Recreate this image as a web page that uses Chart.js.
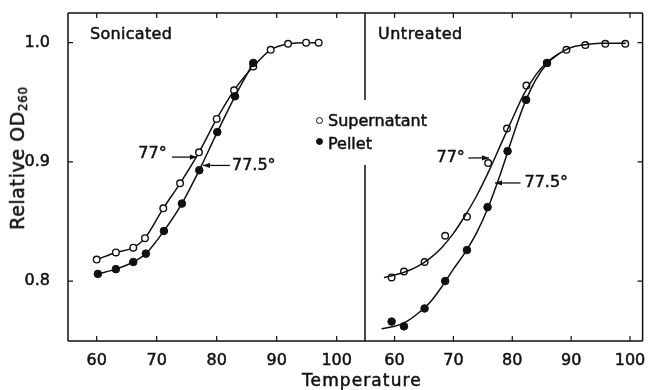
<!DOCTYPE html>
<html>
<head>
<meta charset="utf-8">
<script src="https://cdn.jsdelivr.net/npm/chart.js@4.4.0/dist/chart.umd.min.js"></script>
<style>
  body { margin: 0; background: #fff; }
  #wrap { position: relative; width: 648px; height: 390px; font-family: "DejaVu Sans", sans-serif; color: #111; }
  canvas { position: absolute; left: 0; top: 0; }
  .lbl { position: absolute; white-space: nowrap; font-size: 16px; line-height: 16px; -webkit-text-stroke: 0.5px #111; }
  .dot { position: absolute; width: 5px; height: 5px; border-radius: 50%; border: 1.3px solid #111; }
</style>
</head>
<body>
<div id="wrap">
  <canvas id="left" width="648" height="390"></canvas>
  <canvas id="right" width="648" height="390"></canvas>
  <div class="lbl" style="left:90px; top:26px; letter-spacing:0.3px;">Sonicated</div>
  <div class="lbl" style="left:378px; top:26px; letter-spacing:0.5px;">Untreated</div>
  <div class="dot" style="left:316px; top:117px; background:#fff;"></div>
  <div class="lbl" style="left:328px; top:113px;">Supernatant</div>
  <div class="dot" style="left:316px; top:138px; background:#111;"></div>
  <div class="lbl" style="left:328px; top:136px;">Pellet</div>
  <div class="lbl" style="left:302px; top:372px; font-size:17px; line-height:17px; letter-spacing:1.1px;">Temperature</div>
  <div class="lbl" style="left:19px; top:158px; font-size:19px; line-height:19px; letter-spacing:0.6px; transform:translate(-50%,-50%) rotate(-90deg);">Relative OD<span style="font-size:12px; position:relative; top:3px;">260</span></div>
</div>
<script>
// temperatures (deg C) and relative OD260
const sonSupT = [60, 63.2, 66.1, 68.05, 71.1, 73.9, 77.05, 80, 82.9, 86.1, 89, 91.9, 94.9, 97];
const sonSupOD = [0.818, 0.824, 0.828, 0.836, 0.861, 0.882, 0.908, 0.936, 0.960, 0.980, 0.994, 0.999, 1.0, 1.0];
const sonPelT = [60.2, 63.2, 66.1, 68.2, 71.2, 74.2, 77.1, 80.1, 83.05, 86.1];
const sonPelOD = [0.806, 0.810, 0.816, 0.823, 0.842, 0.865, 0.893, 0.925, 0.955, 0.983];

const untSupT = [59.5, 61.6, 65.1, 68.6, 72.3, 75.9, 79.1, 82.4, 85.9, 89.2, 92.4, 95.8, 99.2];
const untSupOD = [0.803, 0.808, 0.816, 0.838, 0.854, 0.899, 0.928, 0.964, 0.983, 0.994, 0.998, 0.999, 0.999];
const untPelT = [59.5, 61.6, 65.1, 68.6, 72.3, 75.8, 79.2, 82.35, 85.9];
const untPelOD = [0.766, 0.762, 0.777, 0.800, 0.826, 0.862, 0.909, 0.952, 0.983];

// fitted curves drawn in the untreated panel
const untSupCurveT = [58.2, 60, 62, 64, 66, 68, 70, 72, 74, 76, 78, 80, 82, 84, 86, 88, 90, 92, 95, 99.3];
const untSupCurveOD = [0.803, 0.805, 0.808, 0.8125, 0.819, 0.828, 0.840, 0.855, 0.872, 0.892, 0.914, 0.936, 0.957, 0.973, 0.984, 0.991, 0.996, 0.998, 0.9995, 0.9995];
const untPelCurveT = [57.8, 60, 62, 64, 66, 68, 70, 72, 74, 76, 78, 80, 82, 84, 86, 88];
const untPelCurveOD = [0.760, 0.762, 0.766, 0.773, 0.782, 0.795, 0.810, 0.824, 0.841, 0.863, 0.890, 0.920, 0.948, 0.969, 0.983, 0.991];

const xTicks = [60, 70, 80, 90, 100];
const yTicks = [0.8, 0.9, 1.0];

const ink = '#111';
Chart.defaults.font.family = '"DejaVu Sans", sans-serif';
Chart.defaults.font.size = 16;
Chart.defaults.color = ink;

function pts(xs, ys) {
  return xs.map((x, i) => ({ x: x, y: ys[i] }));
}

function openSet(xs, ys, line) {
  return {
    data: pts(xs, ys), showLine: line, borderColor: ink, borderWidth: 1.5,
    cubicInterpolationMode: 'monotone',
    pointRadius: 3.3, pointBorderWidth: 1.4, pointBackgroundColor: '#fff', pointBorderColor: ink
  };
}
function filledSet(xs, ys, line) {
  return {
    data: pts(xs, ys), showLine: line, borderColor: ink, borderWidth: 1.5,
    cubicInterpolationMode: 'monotone',
    pointRadius: 3.8, pointBorderWidth: 1, pointBackgroundColor: ink, pointBorderColor: ink
  };
}
function curveSet(xs, ys) {
  return {
    data: pts(xs, ys), showLine: true, borderColor: ink, borderWidth: 1.5,
    cubicInterpolationMode: 'monotone', pointRadius: 0
  };
}

// frame, inward tick marks and the 77 / 77.5 arrows
const framePlugin = {
  id: 'frame',
  afterDraw(chart) {
    const o = chart.options.frame;
    const ctx = chart.ctx;
    const a = chart.chartArea;
    const xs = chart.scales.x, ys = chart.scales.y;
    ctx.save();
    ctx.strokeStyle = ink;
    ctx.lineWidth = 1.5;
    ctx.beginPath();
    ctx.moveTo(a.left, a.top); ctx.lineTo(a.right, a.top);
    ctx.moveTo(a.left, a.bottom); ctx.lineTo(a.right, a.bottom);
    if (o.side === 'left') {
      ctx.moveTo(a.left, a.top); ctx.lineTo(a.left, a.bottom);
      ctx.moveTo(a.right, a.top); ctx.lineTo(a.right, 100);
      ctx.moveTo(a.right, 165); ctx.lineTo(a.right, a.bottom);
    } else {
      ctx.moveTo(a.right, a.top); ctx.lineTo(a.right, a.bottom);
    }
    ctx.stroke();
    ctx.lineWidth = 1.2;
    ctx.beginPath();
    xTicks.forEach(v => {
      const px = xs.getPixelForValue(v);
      ctx.moveTo(px, a.bottom); ctx.lineTo(px, a.bottom - 5);
      ctx.moveTo(px, a.top); ctx.lineTo(px, a.top + 5);
    });
    yTicks.forEach(v => {
      const py = ys.getPixelForValue(v);
      if (o.side === 'left') { ctx.moveTo(a.left, py); ctx.lineTo(a.left + 5, py); }
      else { ctx.moveTo(a.right, py); ctx.lineTo(a.right - 5, py); }
    });
    ctx.stroke();

    ctx.fillStyle = ink;
    ctx.font = '16px "DejaVu Sans", sans-serif';
    ctx.textBaseline = 'middle';
    o.notes.forEach(n => {
      const y = ys.getPixelForValue(n.ay);
      const x1 = xs.getPixelForValue(n.from), x2 = xs.getPixelForValue(n.to);
      ctx.beginPath();
      ctx.lineWidth = 1.3;
      ctx.moveTo(x1, y); ctx.lineTo(x2, y);
      ctx.stroke();
      const d = x2 > x1 ? 1 : -1;
      ctx.beginPath();
      ctx.moveTo(x2, y);
      ctx.lineTo(x2 - d * 7, y - 2.6);
      ctx.lineTo(x2 - d * 7, y + 2.6);
      ctx.closePath();
      ctx.fill();
      ctx.textAlign = n.align;
      const tx = xs.getPixelForValue(n.tx), ty = ys.getPixelForValue(n.ty);
      ctx.lineWidth = 0.5;
      ctx.fillText(n.text, tx, ty);
      ctx.strokeText(n.text, tx, ty);
    });
    ctx.restore();
  }
};

function scaleX(min, max) {
  return {
    type: 'linear', min: min, max: max,
    grid: { display: false }, border: { display: false },
    afterBuildTicks: s => { s.ticks = xTicks.map(v => ({ value: v })); },
    afterFit: s => { s.height = 49; s.paddingLeft = 0; s.paddingRight = 0; },
    ticks: { padding: 2, color: ink, maxRotation: 0, autoSkip: false, textStrokeColor: ink, textStrokeWidth: 0.5 }
  };
}

new Chart(document.getElementById('left'), {
  type: 'scatter',
  data: {
    datasets: [
      filledSet(sonPelT, sonPelOD, true),
      openSet(sonSupT, sonSupOD, true)
    ]
  },
  options: {
    responsive: false, animation: false,
    layout: { padding: { left: 0, right: 283, top: 13, bottom: 0 } },
    plugins: { legend: { display: false }, tooltip: { enabled: false } },
    scales: {
      x: scaleX(55.22, 104.72),
      y: {
        min: 0.7497, max: 1.0249,
        grid: { display: false }, border: { display: false },
        afterBuildTicks: s => { s.ticks = yTicks.map(v => ({ value: v })); },
        afterFit: s => { s.width = 68; s.paddingTop = 0; s.paddingBottom = 0; },
        ticks: { padding: 10, color: ink, callback: v => v.toFixed(1), textStrokeColor: ink, textStrokeWidth: 0.5 }
      }
    },
    frame: {
      side: 'left',
      notes: [
        { text: '77°', tx: 69.3, ty: 0.907, from: 72.55, to: 76.7, ay: 0.904, align: 'center' },
        { text: '77.5°', tx: 82.55, ty: 0.897, from: 82.2, to: 77.72, ay: 0.897, align: 'left' }
      ]
    }
  },
  plugins: [framePlugin]
});

new Chart(document.getElementById('right'), {
  type: 'scatter',
  data: {
    datasets: [
      curveSet(untPelCurveT, untPelCurveOD),
      curveSet(untSupCurveT, untSupCurveOD),
      filledSet(untPelT, untPelOD, false),
      openSet(untSupT, untSupOD, false)
    ]
  },
  options: {
    responsive: false, animation: false,
    layout: { padding: { left: 365, right: 1, top: 13, bottom: 0 } },
    plugins: { legend: { display: false }, tooltip: { enabled: false } },
    scales: {
      x: scaleX(54.98, 102.14),
      y: { display: false, min: 0.7497, max: 1.0249 }
    },
    frame: {
      side: 'right',
      notes: [
        { text: '77°', tx: 69.53, ty: 0.9037, from: 72.54, to: 76.05, ay: 0.9033, align: 'center' },
        { text: '77.5°', tx: 82.07, ty: 0.8823, from: 81.4, to: 77.06, ay: 0.8823, align: 'left' }
      ]
    }
  },
  plugins: [framePlugin]
});
</script>
</body>
</html>
